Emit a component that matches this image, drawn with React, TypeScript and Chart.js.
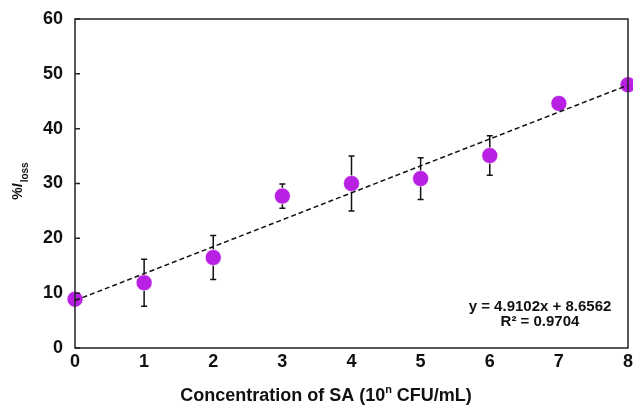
import React, { useEffect, useRef } from "react";
import { Chart, registerables } from "chart.js";

Chart.register(...registerables);

const concentrations = [0, 1, 2, 3, 4, 5, 6, 7, 8];
const lossValues = [8.9, 11.9, 16.5, 27.7, 30.0, 30.9, 35.1, 44.6, 48.0];
const errorValues = [0, 4.3, 4.0, 2.2, 5.0, 3.8, 3.6, 0, 0];
const yTicks = [0, 10, 20, 30, 40, 50, 60];
const slope = 4.9102;
const intercept = 8.6562;
const equationLines = ["y = 4.9102x + 8.6562", "R\u00b2 = 0.9704"];

const FONT = "'Liberation Sans', Arial, sans-serif";
const POINT_COLOR = "rgb(184, 32, 228)";

const customDraw = {
  id: "customDraw",
  beforeDatasetsDraw(chart: any) {
    const { ctx, scales } = chart;
    const xs = scales.x;
    const ys = scales.y;
    ctx.save();
    ctx.strokeStyle = "#111";
    ctx.lineWidth = 1.5;
    concentrations.forEach((c, i) => {
      const e = errorValues[i];
      if (!e) return;
      const px = xs.getPixelForValue(c);
      const top = ys.getPixelForValue(lossValues[i] + e);
      const bot = ys.getPixelForValue(lossValues[i] - e);
      ctx.beginPath();
      ctx.moveTo(px, top);
      ctx.lineTo(px, bot);
      ctx.moveTo(px - 3, top);
      ctx.lineTo(px + 3, top);
      ctx.moveTo(px - 3, bot);
      ctx.lineTo(px + 3, bot);
      ctx.stroke();
    });
    ctx.restore();
  },
  afterDraw(chart: any) {
    const { ctx, chartArea, scales } = chart;
    const ys = scales.y;
    ctx.save();
    ctx.strokeStyle = "#222";
    ctx.lineWidth = 1.5;
    ctx.strokeRect(chartArea.left, chartArea.top, chartArea.right - chartArea.left, chartArea.bottom - chartArea.top);
    ctx.beginPath();
    yTicks.forEach((t) => {
      const py = ys.getPixelForValue(t);
      ctx.moveTo(chartArea.left, py);
      ctx.lineTo(chartArea.left + 5, py);
    });
    ctx.stroke();
    ctx.fillStyle = "#111";
    ctx.font = `bold 15px ${FONT}`;
    ctx.textAlign = "center";
    ctx.textBaseline = "middle";
    ctx.fillText(equationLines[0], 540, 307);
    ctx.fillText(equationLines[1], 540, 322);
    ctx.font = `bold 18px ${FONT}`;
    const pre = "Concentration of SA (10";
    const sup = "n";
    const post = " CFU/mL)";
    const wPre = ctx.measureText(pre).width;
    const wPost = ctx.measureText(post).width;
    ctx.font = `bold 11px ${FONT}`;
    const wSup = ctx.measureText(sup).width;
    const total = wPre + wSup + wPost;
    let x0 = 326 - total / 2;
    const ty = 396;
    ctx.textAlign = "left";
    ctx.font = `bold 18px ${FONT}`;
    ctx.fillText(pre, x0, ty);
    x0 += wPre;
    ctx.font = `bold 11px ${FONT}`;
    ctx.fillText(sup, x0, ty - 6);
    x0 += wSup;
    ctx.font = `bold 18px ${FONT}`;
    ctx.fillText(post, x0, ty);
    // y title
    ctx.translate(22, 181);
    ctx.rotate(-Math.PI / 2);
    ctx.textBaseline = "alphabetic";
    ctx.font = `bold 14px ${FONT}`;
    const a = "%";
    const b = "I";
    const s = "loss";
    const wa = ctx.measureText(a).width;
    ctx.font = `italic bold 14px ${FONT}`;
    const wb = ctx.measureText(b).width;
    ctx.font = `bold 10px ${FONT}`;
    const ws = ctx.measureText(s).width;
    let yx = -(wa + wb + ws + 1) / 2;
    ctx.font = `bold 14px ${FONT}`;
    ctx.fillText(a, yx, 0);
    yx += wa;
    ctx.font = `italic bold 14px ${FONT}`;
    ctx.fillText(b, yx, 0);
    yx += wb + 1;
    ctx.font = `bold 10px ${FONT}`;
    ctx.fillText(s, yx, 6);
    ctx.restore();
  },
};

export default function App() {
  const ref = useRef<HTMLCanvasElement>(null);
  useEffect(() => {
    document.body.style.margin = "0";
    const chart = new Chart(ref.current!, {
      type: "scatter",
      data: {
        datasets: [
          {
            type: "line",
            data: [
              { x: 0, y: intercept },
              { x: 8, y: slope * 8 + intercept },
            ],
            borderColor: "#111",
            borderWidth: 1.5,
            borderDash: [5, 3],
            pointRadius: 0,
            order: 0,
            clip: false,
          } as any,
          {
            data: concentrations.map((c, i) => ({ x: c, y: lossValues[i] })),
            backgroundColor: POINT_COLOR,
            borderColor: "rgba(255,255,255,0.6)",
            borderWidth: 1,
            pointRadius: 8,
            order: 1,
            clip: false,
          } as any,
        ],
      },
      plugins: [customDraw],
      options: {
        animation: false,
        responsive: false,
        layout: { autoPadding: false, padding: { left: 0, right: 5, top: 19, bottom: 0 } },
        plugins: { legend: { display: false }, tooltip: { enabled: false } },
        scales: {
          x: {
            type: "linear",
            min: 0,
            max: 8,
            ticks: { stepSize: 1, color: "#111", font: { family: FONT, size: 18, weight: "bold" }, padding: 3 },
            grid: { display: false, drawTicks: false },
            border: { display: false },
            afterFit: (s: any) => { s.height = 60; s.paddingRight = 0; s.paddingLeft = 0; },
          },
          y: {
            min: 0,
            max: 60,
            ticks: { stepSize: 10, color: "#111", font: { family: FONT, size: 18, weight: "bold" }, padding: 12 },
            grid: { display: false, drawTicks: false },
            border: { display: false },
            afterFit: (s: any) => { s.width = 75; s.paddingTop = 0; s.paddingBottom = 0; },
          },
        },
      },
    } as any);
    return () => chart.destroy();
  }, []);
  return (
    <div style={{ position: "absolute", left: 0, top: 0 }}>
      <canvas ref={ref} width={633} height={408} />
    </div>
  );
}
